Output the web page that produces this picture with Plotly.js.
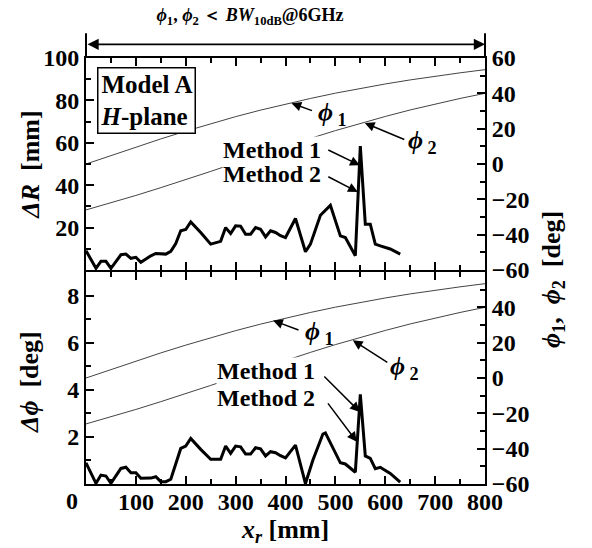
<!DOCTYPE html>
<html>
<head>
<meta charset="utf-8">
<script src="https://cdn.plot.ly/plotly-3.0.1.min.js"></script>
<style>html,body{margin:0;padding:0;background:#fff;}</style>
</head>
<body>
<div id="chart" style="width:592px;height:548px;"></div>
<script>
// ---- data ----
const xR = [0,20,30,40,50,70,80,90,100,110,130,140,160,170,180,190,200,210,230,250,270,280,290,300,310,320,330,340,350,360,370,380,390,400,420,440,450,470,490,510,520,540,550,560,570,580,590,610,630];
const deltaR = [9.1,0.8,4.1,4.1,0.8,7.2,7.5,5.5,6.0,3.6,6.7,7.8,7.5,8.8,12.5,18.5,19.1,22.7,17.7,12.2,13.5,20.0,17.2,20.8,20.7,16.9,16.9,20.0,19.2,15.6,18.5,17.7,16.2,15.3,24.3,8.6,12.2,25.8,30.5,16.1,15.3,6.7,58.4,21.6,21.6,12.2,11.4,9.9,7.5];

const xP = [0,20,30,40,50,70,80,90,100,110,130,140,150,160,170,180,190,200,210,230,250,270,280,290,300,310,320,330,340,350,360,370,380,390,400,420,440,455,475,480,510,520,540,550,560,570,580,590,610,630];
const deltaPhi = [0.90,0.03,0.38,0.34,0.03,0.66,0.71,0.48,0.48,0.24,0.25,0.31,0.10,0.10,0.20,0.88,1.51,1.61,1.93,1.47,1.05,1.05,1.61,1.30,1.61,1.58,1.27,1.27,1.54,1.49,1.19,1.37,1.33,1.20,1.11,1.65,0.02,1.02,2.12,2.17,0.90,0.85,0.50,3.81,1.19,1.09,0.65,0.71,0.45,0.08];

const xPhi = [0,50,100,150,200,250,300,350,400,450,500,550,600,650,700,750,800];
const phi1 = [0.0,4.8,9.6,14.2,18.6,22.8,26.8,30.5,34.0,37.1,40.1,42.8,45.3,47.6,49.7,51.6,53.4];
const phi2 = [-26.0,-22.0,-17.8,-13.4,-8.9,-4.2,0.6,5.3,10.0,14.5,18.9,23.0,26.9,30.6,34.0,37.1,40.0];

const xTicks = [100,200,300,400,500,600,700,800];
const rTicksTop = [-60,-40,-20,0,20,40,60];
const rTicksBottom = [-60,-40,-20,0,20,40];
const lTicksTop = [20,40,60,80,100];
const lTicksBottom = [2,4,6,8];

// ---- style ----
const FONT = 'Liberation Serif, Times New Roman, serif';
const thick = {color:'#000', width:3};
const thin = {color:'#444', width:1};

const traces = [
  {x:xPhi, y:phi1, xaxis:'x2', yaxis:'y4', mode:'lines', line:thin, hoverinfo:'skip'},
  {x:xPhi, y:phi2, xaxis:'x2', yaxis:'y4', mode:'lines', line:thin, hoverinfo:'skip'},
  {x:xR, y:deltaR, xaxis:'x2', yaxis:'y3', mode:'lines', line:thick},
  {x:xPhi, y:phi1, xaxis:'x', yaxis:'y2', mode:'lines', line:thin, hoverinfo:'skip'},
  {x:xPhi, y:phi2, xaxis:'x', yaxis:'y2', mode:'lines', line:thin, hoverinfo:'skip'},
  {x:xP, y:deltaPhi, xaxis:'x', yaxis:'y', mode:'lines', line:thick}
];

const axBase = {
  showline:true, linecolor:'#000', linewidth:2,
  ticks:'inside', ticklen:8, tickwidth:2, tickcolor:'#000',
  showgrid:false, zeroline:false, fixedrange:true
};
function minor(d){ return {tickmode:'linear', tick0:0, dtick:d, ticks:'inside', ticklen:5, tickwidth:2, tickcolor:'#000'}; }

const arrowStyle = {showarrow:true, arrowhead:2, arrowsize:1.3, arrowwidth:1.5, arrowcolor:'#000', text:''};
const phiFont = {size:26};
const methFont = {size:24};
const C = {xanchor:'center', yanchor:'middle'};

const annotations = [
  // top panel
  Object.assign({xref:'x2', yref:'y3', x:121, y:80, text:'Model A<br><i>H</i>-plane', align:'left', showarrow:false,
   bgcolor:'#fff', bordercolor:'#000', borderwidth:1.5, borderpad:2, font:{size:25}}, C),
  Object.assign({xref:'x2', yref:'y3', x:495, y:73.7, text:'<i>ϕ</i><sub> 1</sub>', showarrow:false, font:phiFont}, C),
  Object.assign({xref:'x2', yref:'y3', x:412, y:78.7, ax:22, ay:8}, arrowStyle),
  Object.assign({xref:'x2', yref:'y3', x:674, y:60.6, text:'<i>ϕ</i><sub> 2</sub>', showarrow:false, font:phiFont}, C),
  Object.assign({xref:'x2', yref:'y3', x:559, y:69.3, ax:41, ay:17}, arrowStyle),
  Object.assign({xref:'x2', yref:'y3', x:373, y:56.8, text:'Method 1', showarrow:false, bgcolor:'#fff', borderpad:0, font:methFont}, C),
  Object.assign({xref:'x2', yref:'y3', x:373, y:45.1, text:'Method 2', showarrow:false, bgcolor:'#fff', borderpad:0, font:methFont}, C),
  Object.assign({xref:'x2', yref:'y3', x:549, y:49.4, ax:-33, ay:-16}, arrowStyle),
  Object.assign({xref:'x2', yref:'y3', x:545, y:36.8, ax:-31, ay:-16}, arrowStyle),
  // bottom panel
  Object.assign({xref:'x', yref:'y', x:469, y:6.39, text:'<i>ϕ</i><sub> 1</sub>', showarrow:false, font:phiFont}, C),
  Object.assign({xref:'x', yref:'y', x:375, y:6.94, ax:27, ay:10}, arrowStyle),
  Object.assign({xref:'x', yref:'y', x:638, y:4.91, text:'<i>ϕ</i><sub> 2</sub>', showarrow:false, font:phiFont}, C),
  Object.assign({xref:'x', yref:'y', x:535, y:6.10, ax:36, ay:23}, arrowStyle),
  Object.assign({xref:'x', yref:'y', x:361, y:4.78, text:'Method 1', showarrow:false, bgcolor:'#fff', borderpad:0, font:methFont}, C),
  Object.assign({xref:'x', yref:'y', x:361, y:3.64, text:'Method 2', showarrow:false, bgcolor:'#fff', borderpad:0, font:methFont}, C),
  Object.assign({xref:'x', yref:'y', x:549, y:3.06, ax:-37, ay:-37}, arrowStyle),
  Object.assign({xref:'x', yref:'y', x:543, y:1.79, ax:-30, ay:-40}, arrowStyle),
  // shared "0" corner label
  Object.assign({xref:'paper', yref:'paper', x:-0.035, y:-0.040, text:'0', showarrow:false, font:{size:24}}, C),
  // right axis title spanning both panels
  Object.assign({xref:'paper', yref:'paper', x:1.170, y:0.481, text:'<i>ϕ</i><sub>1</sub>,  <i>ϕ</i><sub>2</sub>  [deg]', textangle:-90, showarrow:false, font:{size:26}}, C),
  // left axis titles
  Object.assign({xref:'paper', yref:'paper', x:-0.14, y:0.75, text:'<i>ΔR</i>  [mm]', textangle:-90, showarrow:false, font:{size:26}}, C),
  Object.assign({xref:'paper', yref:'paper', x:-0.14, y:0.24, text:'<i>Δϕ</i>  [deg]', textangle:-90, showarrow:false, font:{size:26}}, C),
  // double arrow spanning the x range above the top panel
  {xref:'x2', axref:'x2', x:800, ax:0, yref:'paper', ayref:'pixel', y:1.032, ay:0, text:'',
   showarrow:true, arrowhead:2, startarrowhead:2, arrowside:'end+start', arrowsize:1.4, startarrowsize:1.4, arrowwidth:1.6, arrowcolor:'#000'}
];

const shapes = [
  {type:'line', xref:'paper', yref:'paper', x0:0, x1:0, y0:1, y1:1.058, line:{color:'#000', width:2}},
  {type:'line', xref:'paper', yref:'paper', x0:1, x1:1, y0:1, y1:1.058, line:{color:'#000', width:2}}
];

const gap = 1/426;
const layout = {
  width:592, height:548,
  margin:{l:86, r:107, t:58, b:64},
  paper_bgcolor:'#fff', plot_bgcolor:'#fff',
  showlegend:false,
  font:{family:FONT, size:24, color:'#000', weight:'bold'},
  title:{text:'<i>ϕ</i><sub>1</sub>, <i>ϕ</i><sub>2</sub> ＜ <i>BW</i><sub>10dB</sub>@6GHz',
         xref:'container', yref:'container', x:250/592, y:1-15/548, xanchor:'center', yanchor:'middle',
         font:{family:FONT, size:18, weight:'bold'}},
  xaxis:Object.assign({}, axBase, {domain:[0,1], anchor:'y', range:[0,800], tickmode:'array', tickvals:xTicks,
         mirror:'ticks', minor:minor(50), ticklabelstandoff:-5,
         title:{text:'<i>x<sub>r</sub></i> [mm]', standoff:0, font:{size:26}}}),
  xaxis2:Object.assign({}, axBase, {domain:[0,1], anchor:'y3', range:[0,800], matches:'x', tickmode:'array', tickvals:xTicks,
         showticklabels:false, mirror:'ticks', minor:minor(50)}),
  yaxis:Object.assign({}, axBase, {domain:[0,0.5-gap], anchor:'x', range:[0,9], tickmode:'array', tickvals:lTicksBottom,
         minor:minor(1)}),
  yaxis2:Object.assign({}, axBase, {overlaying:'y', side:'right', anchor:'x', range:[-60,60], tickmode:'array', tickvals:rTicksBottom,
         minor:minor(10)}),
  yaxis3:Object.assign({}, axBase, {domain:[0.5+gap,1], anchor:'x2', range:[0,100], tickmode:'array', tickvals:lTicksTop,
         minor:minor(10)}),
  yaxis4:Object.assign({}, axBase, {overlaying:'y3', side:'right', anchor:'x2', range:[-60,60], tickmode:'array', tickvals:rTicksTop,
         minor:minor(10)}),
  annotations:annotations,
  shapes:shapes
};

Plotly.newPlot('chart', traces, layout, {displayModeBar:false, staticPlot:true});
</script>
</body>
</html>
